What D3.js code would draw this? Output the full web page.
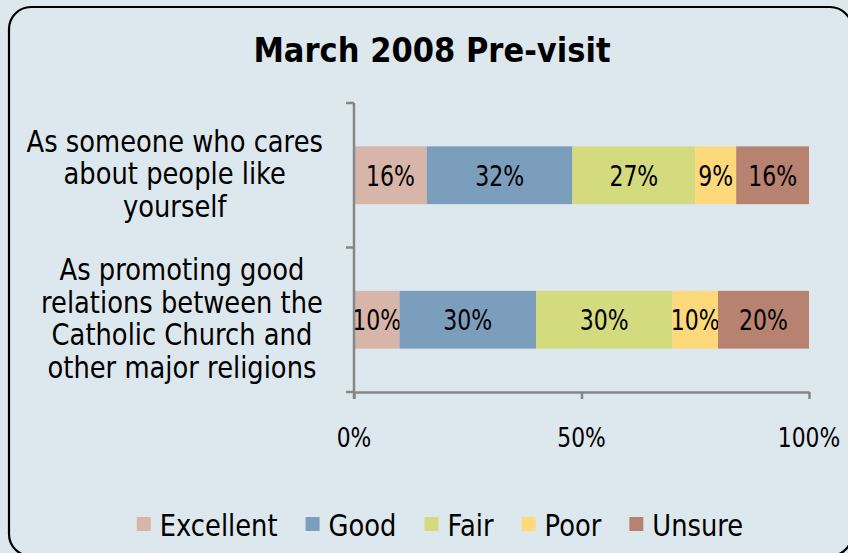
<!DOCTYPE html>
<html>
<head>
<meta charset="utf-8">
<script src="https://cdn.jsdelivr.net/npm/d3@7"></script>
<style>
  html, body { margin: 0; padding: 0; background: #dde8ee; }
  svg { display: block; }
  text { font-family: "DejaVu Sans", sans-serif; fill: #000; }
</style>
</head>
<body>
<svg width="848" height="553"></svg>
<script>
// Chart data
const categories = [
    ["As someone who cares", "about people like", "yourself"],
    ["As promoting good", "relations between the", "Catholic Church and", "other major religions"]
];
const seriesNames = ["Excellent", "Good", "Fair", "Poor", "Unsure"];
const seriesColors = ["#d7b5a9", "#7b9ebc", "#d4db7f", "#fdd97b", "#b88270"];
const excellent = [0.16, 0.10];
const good = [0.32, 0.30];
const fair = [0.27, 0.30];
const poor = [0.09, 0.10];
const unsure = [0.16, 0.20];
const xTicks = [0, 0.5, 1];

const width = 848;
const height = 553;
const margin = { top: 103, right: 39, bottom: 161, left: 354 };

const svg = d3.select("svg");

// Outer frame (runs slightly past the window, as in the original)
svg.append("rect")
    .attr("x", 9).attr("y", 7)
    .attr("width", 843).attr("height", 549)
    .attr("rx", 22).attr("ry", 22)
    .attr("fill", "#dde8ee")
    .attr("stroke", "#000")
    .attr("stroke-width", 2.2);

// Horizontally squeezed text, like the original picture
function squeezed(sel, x, y, sx) {
    return sel.attr("transform", `translate(${x},${y}) scale(${sx},1)`);
}

// Title
squeezed(svg.append("text"), 432, 62, 0.9)
    .attr("text-anchor", "middle")
    .attr("font-size", 34)
    .attr("font-weight", "bold")
    .text("March 2008 Pre-visit");

// Build stacked data
const rows = categories.map((c, i) => ({
    key: i,
    Excellent: excellent[i], Good: good[i], Fair: fair[i], Poor: poor[i], Unsure: unsure[i]
}));
const stack = d3.stack().keys(seriesNames)(rows);

// Scales
const xScale = d3.scaleLinear()
    .domain([0, 1])
    .range([margin.left, width - margin.right]);

const yScale = d3.scaleBand()
    .domain(d3.range(categories.length))
    .range([margin.top, height - margin.bottom])
    .paddingInner(0.6)
    .paddingOuter(0.3);

const color = d3.scaleOrdinal().domain(seriesNames).range(seriesColors);

// Bars
const layers = svg.append("g").selectAll("g")
    .data(stack)
    .enter()
    .append("g")
    .attr("fill", d => color(d.key));

layers.selectAll("rect")
    .data(d => d)
    .enter()
    .append("rect")
    .attr("x", d => xScale(d[0]))
    .attr("y", (d, i) => yScale(i))
    .attr("width", d => xScale(d[1]) - xScale(d[0]))
    .attr("height", yScale.bandwidth());

// Bar value labels
layers.each(function(layer) {
    d3.select(this).selectAll("text")
        .data(layer)
        .enter()
        .append("text")
        .each(function(d, i) {
            squeezed(d3.select(this), (xScale(d[0]) + xScale(d[1])) / 2,
                yScale(i) + yScale.bandwidth() / 2 + 10.5, 0.8);
        })
        .attr("text-anchor", "middle")
        .attr("font-size", 27.5)
        .attr("fill", "#000")
        .text(d => d3.format(".0%")(d[1] - d[0]));
});

// Y axis: line with ticks at category boundaries
const plotTop = margin.top;
const plotBottom = height - margin.bottom;
const step = yScale.step();
const yBounds = [plotTop, plotTop + step, plotBottom];

const axisColor = "#868686";
svg.append("line")
    .attr("x1", margin.left).attr("x2", margin.left)
    .attr("y1", plotTop).attr("y2", plotBottom + 7)
    .attr("stroke", axisColor).attr("stroke-width", 2.5);
svg.selectAll(".ytick")
    .data(yBounds)
    .enter()
    .append("line")
    .attr("class", "ytick")
    .attr("x1", margin.left - 8).attr("x2", margin.left)
    .attr("y1", d => d).attr("y2", d => d)
    .attr("stroke", axisColor).attr("stroke-width", 2.5);

// X axis
const xAxis = svg.append("g")
    .attr("transform", `translate(0, ${plotBottom})`)
    .call(d3.axisBottom(xScale).tickValues(xTicks).tickSizeOuter(0).tickSizeInner(7).tickFormat(() => ""));
xAxis.select(".domain").attr("stroke", axisColor).attr("stroke-width", 2.5);
xAxis.selectAll(".tick line").attr("stroke", axisColor).attr("stroke-width", 2.5);

svg.selectAll(".xlabel")
    .data(xTicks)
    .enter()
    .append("text")
    .attr("class", "xlabel")
    .each(function(d) { squeezed(d3.select(this), xScale(d), plotBottom + 55, 0.84); })
    .attr("text-anchor", "middle")
    .attr("font-size", 26)
    .text(d => d3.format(".0%")(d));

// Category labels: block right-aligned, lines centered within block
const catSx = 0.86;
const lineH = 32.5;
categories.forEach((lines, i) => {
    const g = svg.append("g");
    const texts = g.selectAll("text")
        .data(lines)
        .enter()
        .append("text")
        .attr("font-size", 30)
        .attr("text-anchor", "middle")
        .text(d => d);
    const maxW = d3.max(texts.nodes(), n => n.getComputedTextLength()) * catSx;
    const cx = 323 - maxW / 2;
    const cy = yScale(i) + yScale.bandwidth() / 2 + 9;
    texts.each(function(d, j) {
        squeezed(d3.select(this), cx, cy + (j - (lines.length - 1) / 2) * lineH, catSx);
    });
});

// Legend
const legSx = 0.86;
const legend = svg.append("g");
let lx = 0;
seriesNames.forEach(name => {
    const item = legend.append("g");
    item.append("rect")
        .attr("x", lx).attr("y", 517)
        .attr("width", 14).attr("height", 14)
        .attr("fill", color(name));
    const t = item.append("text")
        .attr("font-size", 30)
        .text(name);
    squeezed(t, lx + 23, 536, legSx);
    lx += 23 + t.node().getComputedTextLength() * legSx + 28;
});
const legW = lx - 28;
legend.attr("transform", `translate(${440 - legW / 2}, 0)`);
</script>
</body>
</html>
